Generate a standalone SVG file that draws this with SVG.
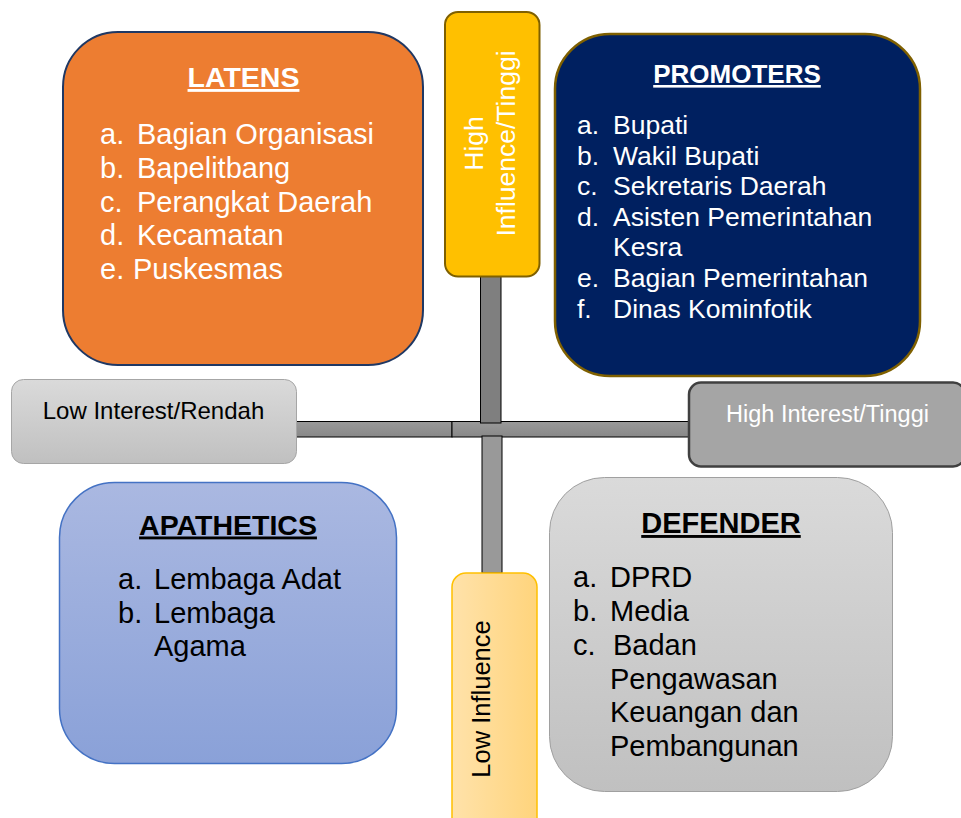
<svg xmlns="http://www.w3.org/2000/svg" width="961" height="818" viewBox="0 0 961 818">
<defs>
<linearGradient id="gGray" x1="0" y1="0" x2="0" y2="1"><stop offset="0" stop-color="#dadada"/><stop offset="1" stop-color="#c0c0c0"/></linearGradient>
<linearGradient id="gBlue" x1="0" y1="0" x2="0" y2="1"><stop offset="0" stop-color="#aab8e1"/><stop offset="1" stop-color="#8aa1d8"/></linearGradient>
<linearGradient id="gLowInf" x1="0" y1="0" x2="1" y2="0"><stop offset="0" stop-color="#ffe2aa"/><stop offset="1" stop-color="#ffd47c"/></linearGradient>
<linearGradient id="gBar" x1="0" y1="0" x2="0" y2="1"><stop offset="0" stop-color="#9a9a9a"/><stop offset="1" stop-color="#888888"/></linearGradient>
</defs>
<style>
text{font-family:"Liberation Sans",Arial,Helvetica,sans-serif;}
.title{font-weight:bold;text-anchor:middle;text-decoration:underline;}
.big{font-size:29px;}
.mid{font-size:26.5px;}
.w{fill:#ffffff;}
.k{fill:#000000;}
.bar{stroke:#000000;stroke-width:1;}
</style>
<g id="connectors">
<rect class="bar" x="296" y="421.5" width="156" height="15.5" fill="url(#gBar)"/>
<rect class="bar" x="452" y="421.5" width="237" height="15.5" fill="url(#gBar)"/>
<rect class="bar" x="480.5" y="276" width="20.5" height="147" fill="#7f7f7f"/>
<rect class="bar" x="482" y="436" width="20" height="137" fill="#999999"/>
</g>
<g id="latens">
<rect x="63" y="32" width="360" height="333" rx="55" ry="55" fill="#ed7d31" stroke="#1f3864" stroke-width="2"/>
<text class="title w" x="243.5" y="87" font-size="28.5">LATENS</text>
<g class="big w">
<text x="100" y="144">a.</text><text x="137" y="144">Bagian Organisasi</text>
<text x="100" y="178">b.</text><text x="137" y="178">Bapelitbang</text>
<text x="100" y="211.5">c.</text><text x="137" y="211.5">Perangkat Daerah</text>
<text x="100" y="245">d.</text><text x="137" y="245">Kecamatan</text>
<text x="100" y="279">e.</text><text x="133" y="279">Puskesmas</text>
</g>
</g>
<g id="high-influence">
<rect x="445" y="12" width="94.5" height="264.5" rx="13" ry="13" fill="#ffc000" stroke="#7f6000" stroke-width="2"/>
<text class="w" font-size="26.5" text-anchor="middle" transform="translate(483,143.5) rotate(-90)">High</text>
<text class="w" font-size="26.5" text-anchor="middle" transform="translate(515,143.5) rotate(-90)">Influence/Tinggi</text>
</g>
<g id="promoters">
<rect x="555" y="34" width="365" height="342" rx="55" ry="55" fill="#002060" stroke="#7f6000" stroke-width="2.5"/>
<text class="title w" x="737" y="83" font-size="26">PROMOTERS</text>
<g class="mid w">
<text x="577" y="134">a.</text><text x="613" y="134">Bupati</text>
<text x="577" y="164.6">b.</text><text x="613" y="164.6">Wakil Bupati</text>
<text x="577" y="195.2">c.</text><text x="613" y="195.2">Sekretaris Daerah</text>
<text x="577" y="225.8">d.</text><text x="613" y="225.8">Asisten Pemerintahan</text>
<text x="613" y="256.4">Kesra</text>
<text x="577" y="287">e.</text><text x="613" y="287">Bagian Pemerintahan</text>
<text x="577" y="317.6">f.</text><text x="613" y="317.6">Dinas Kominfotik</text>
</g>
</g>
<g id="low-interest">
<rect x="11.5" y="379.5" width="285" height="84" rx="12" ry="12" fill="url(#gGray)" stroke="#a6a6a6" stroke-width="1"/>
<text class="k" x="153.5" y="419" font-size="24" text-anchor="middle">Low Interest/Rendah</text>
</g>
<g id="high-interest">
<rect x="689" y="382.5" width="276" height="84" rx="12" ry="12" fill="#a5a5a5" stroke="#404040" stroke-width="2.5"/>
<text class="w" x="827.5" y="421.5" font-size="23.5" text-anchor="middle">High Interest/Tinggi</text>
</g>
<g id="apathetics">
<rect x="59.5" y="482.5" width="337" height="281" rx="55" ry="55" fill="url(#gBlue)" stroke="#4472c4" stroke-width="1.5"/>
<text class="title k" x="228" y="534.5" font-size="28.5">APATHETICS</text>
<g class="big k">
<text x="118" y="589">a.</text><text x="154" y="589">Lembaga Adat</text>
<text x="118" y="622.5">b.</text><text x="154" y="622.5">Lembaga</text>
<text x="154" y="656">Agama</text>
</g>
</g>
<g id="low-influence">
<rect x="452" y="573" width="85" height="260" rx="14" ry="14" fill="url(#gLowInf)" stroke="#ffc000" stroke-width="1.5"/>
<text class="k" font-size="25.5" text-anchor="middle" transform="translate(490,699) rotate(-90)">Low Influence</text>
</g>
<g id="defender">
<rect x="549.5" y="477.5" width="343" height="314" rx="55" ry="55" fill="url(#gGray)" stroke="#a0a0a0" stroke-width="1"/>
<text class="title k" x="721" y="533" font-size="29">DEFENDER</text>
<g class="big k">
<text x="573" y="587">a.</text><text x="610" y="587">DPRD</text>
<text x="573" y="620.5">b.</text><text x="610" y="620.5">Media</text>
<text x="573" y="655">c.</text><text x="613" y="655">Badan</text>
<text x="610" y="688.5">Pengawasan</text>
<text x="610" y="722">Keuangan dan</text>
<text x="610" y="756">Pembangunan</text>
</g>
</g>
</svg>
